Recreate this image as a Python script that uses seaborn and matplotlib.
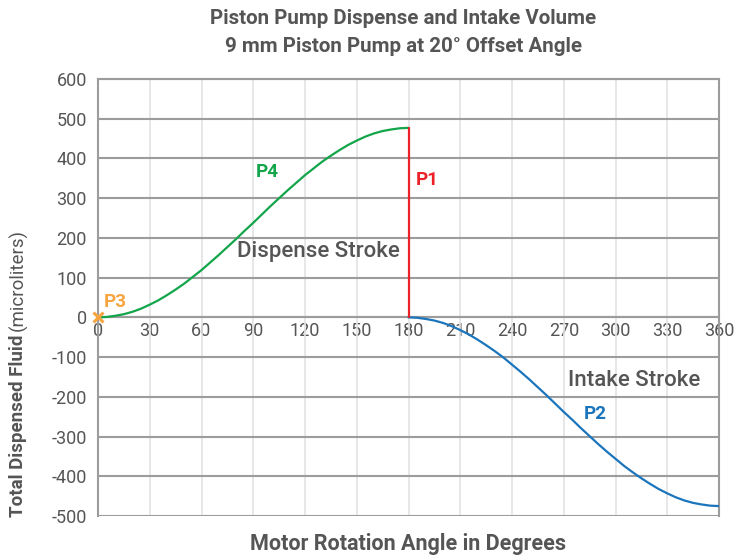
import pandas as pd
import seaborn as sns
import matplotlib.pyplot as plt

# dispense stroke (P4), every 5 degrees
dispense_deg = list(range(0, 181, 5))
dispense_ul = [0, 1, 4, 8, 14, 22, 32, 43, 56, 70, 85, 102, 119, 138, 157, 177, 197, 218, 238,
               259, 280, 300, 320, 339, 358, 375, 392, 407, 421, 434, 445, 455, 463, 469, 473, 476, 477]

# intake stroke (P2)
intake_deg = list(range(180, 361, 5))
intake_ul = [0, -1, -4, -8, -14, -22, -32, -43, -56, -70, -85, -101, -119, -137, -156, -176, -196, -217, -238,
             -258, -279, -299, -319, -338, -356, -374, -390, -405, -419, -432, -443, -453, -461, -467, -471, -474, -475]

# P1 drop at 180 degrees
drop_deg = [180, 180]
drop_ul = [477, 0]

x_ticks = list(range(0, 361, 30))
y_ticks = list(range(-500, 601, 100))

sns.set_style("white")
plt.rcParams['font.family'] = ['Roboto', 'DejaVu Sans']
plt.rcParams['axes.unicode_minus'] = False

txt = "#555555"
green = "#12A54A"
red = "#EC2027"
blue = "#1B75BC"
orange = "#F7A540"

fig = plt.figure(figsize=(7.45, 5.57), dpi=100)
ax = fig.add_axes([98/745, 1-516/557, (719-98)/745, (516-79)/557])

df_d = pd.DataFrame({"deg": dispense_deg, "ul": dispense_ul})
df_i = pd.DataFrame({"deg": intake_deg, "ul": intake_ul})
df_p = pd.DataFrame({"deg": drop_deg, "ul": drop_ul})
sns.lineplot(data=df_d, x="deg", y="ul", color=green, lw=1.6, ax=ax, zorder=4)
sns.lineplot(data=df_i, x="deg", y="ul", color=blue, lw=1.6, ax=ax, zorder=4)
sns.lineplot(data=df_p, x="deg", y="ul", color=red, lw=1.6, ax=ax, zorder=4,
             sort=False, estimator=None)
ax.plot([0], [0], marker="x", color=orange, ms=7, mew=2.2, zorder=6, clip_on=False)

ax.set_xlim(0, 360)
ax.set_ylim(-500, 600)
ax.set_xticks(x_ticks)
ax.set_yticks(y_ticks)
ax.set_xlabel("")
ax.set_ylabel("")

# grid
for x in x_ticks:
    ax.axvline(x, color="#e3e3e3", lw=1.2, zorder=1)
for y in y_ticks:
    ax.axhline(y, color="#9c9c9c", lw=1.5, zorder=2)

for s in ["top", "left", "right"]:
    ax.spines[s].set_color("#9c9c9c")
    ax.spines[s].set_linewidth(1.5)
ax.spines["bottom"].set_position(("data", 0))
ax.spines["bottom"].set_color("#9c9c9c")
ax.spines["bottom"].set_linewidth(1.5)

ax.tick_params(axis="both", length=0, labelsize=13, labelcolor=txt)
ax.tick_params(axis="x", pad=3)
ax.tick_params(axis="y", pad=8)

# annotations
ax.text(98, 365, "P4", color=green, fontsize=13.5, fontweight="bold", ha="center", va="center")
ax.text(191, 345, "P1", color=red, fontsize=13.5, fontweight="bold", ha="center", va="center")
ax.text(10, 38, "P3", color=orange, fontsize=13.5, fontweight="bold", ha="center", va="center")
ax.text(288, -244, "P2", color=blue, fontsize=13.5, fontweight="bold", ha="center", va="center")
ax.text(128, 166, "Dispense Stroke", color=txt, fontsize=16, fontweight="medium", ha="center", va="center")
ax.text(311, -159, "Intake Stroke", color=txt, fontsize=16, fontweight="medium", ha="center", va="center")

fig.text(403/745, 1-18/557, "Piston Pump Dispense and Intake Volume", color=txt,
         fontsize=14.8, fontweight="bold", ha="center", va="center")
fig.text(403/745, 1-46/557, "9 mm Piston Pump at 20° Offset Angle", color=txt,
         fontsize=14.8, fontweight="bold", ha="center", va="center")
fig.text(408/745, 1-544/557, "Motor Rotation Angle in Degrees", color=txt,
         fontsize=15.5, fontweight="bold", ha="center", va="center")

# y label: bold part + regular part
yl1 = fig.text(18/745, 1-517/557, "Total Dispensed Fluid", color=txt, fontsize=13.5,
               fontweight="bold", rotation=90, ha="center", va="bottom")
fig.canvas.draw()
bb = yl1.get_window_extent()
fig.text(18/745, (bb.y1 + 4)/fig.bbox.height, "(microliters)", color=txt, fontsize=13.5,
         rotation=90, ha="center", va="bottom")

fig.savefig("out.png", dpi=100)
